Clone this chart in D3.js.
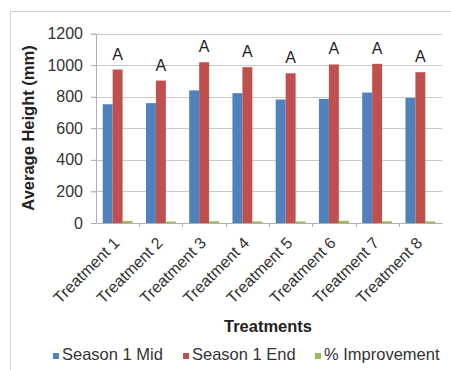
<!DOCTYPE html>
<html><head><meta charset="utf-8">
<script src="https://cdn.jsdelivr.net/npm/d3@7/dist/d3.min.js"></script>
<style>body{margin:0;background:#fff;}svg{display:block;font-family:"Liberation Sans",Arial,sans-serif;}</style>
</head><body>
<svg id="c" width="451" height="370"></svg>
<script>
const categories = ["Treatment 1","Treatment 2","Treatment 3","Treatment 4","Treatment 5","Treatment 6","Treatment 7","Treatment 8"];
const seriesNames = ["Season 1 Mid","Season 1 End","% Improvement"];
const midValues = [752, 759, 840, 822, 782, 786, 826, 792];
const endValues = [972, 902, 1018, 987, 948, 1004, 1008, 955];
const improvementValues = [13, 9, 11, 10, 10, 14, 11, 10];
const letters = ["A","A","A","A","A","A","A","A"];
const yTicks = [0,200,400,600,800,1000,1200];
const colors = ["#4F81BD","#C0504D","#9BBB59"];

const svg = d3.select("#c");
svg.append("rect").attr("x",10.5).attr("y",11.5).attr("width",450).attr("height",370)
  .attr("fill","#fff").attr("stroke","#d0d0d0");

const m = {l:96, r:442, t:33.5, b:223};
const x = d3.scaleBand().domain(categories).range([m.l,m.r]).paddingInner(0.31).paddingOuter(0.155);
const y = d3.scaleLinear().domain([0,1200]).range([m.b,m.t]);
const xs = d3.scaleBand().domain(seriesNames).range([0,x.bandwidth()]);

// gridlines
svg.append("g").selectAll("line").data(yTicks.filter(d=>d>0)).join("line")
  .attr("x1",m.l-5).attr("x2",m.r).attr("y1",d=>Math.round(y(d))+0.5).attr("y2",d=>Math.round(y(d))+0.5)
  .attr("stroke","#c8c8c8").attr("stroke-width",1);

const data = categories.map((c,i)=>({c, vals:[midValues[i],endValues[i],improvementValues[i]]}));
const g = svg.append("g").selectAll("g").data(data).join("g").attr("transform",d=>`translate(${x(d.c)},0)`);
g.selectAll("rect").data(d=>d.vals.map((v,j)=>({v,s:seriesNames[j],j}))).join("rect")
  .attr("x",d=>xs(d.s)).attr("width",xs.bandwidth()).attr("y",d=>y(d.v)).attr("height",d=>y(0)-y(d.v))
  .attr("fill",d=>colors[d.j]);

// letters
svg.append("g").selectAll("text").data(data).join("text")
  .attr("x",(d)=>x(d.c)+xs("Season 1 End")+xs.bandwidth()/2)
  .attr("y",(d,i)=>y(endValues[i])-10)
  .attr("text-anchor","middle").attr("font-size",16).attr("fill","#222")
  .text((d,i)=>letters[i]);

// y axis
const ya = svg.append("g").attr("transform",`translate(${m.l},0)`)
  .call(d3.axisLeft(y).tickValues(yTicks).tickFormat(d3.format("d")).tickSize(5).tickSizeOuter(0));
ya.select(".domain").attr("stroke","#b0b0b0");
ya.selectAll(".tick line").attr("stroke","#b0b0b0");
ya.selectAll(".tick text").attr("font-size",16).attr("fill","#333").attr("x",-13).attr("font-family","Liberation Sans, Arial, sans-serif");

// x axis
const xa = svg.append("g").attr("transform",`translate(0,${m.b})`)
  .call(d3.axisBottom(x).tickSize(0).tickSizeOuter(0));
xa.select(".domain").attr("stroke","#b0b0b0");
svg.append("g").selectAll("line").data(categories.slice(1)).join("line")
  .attr("x1",d=>Math.round(x(d)-x.step()*x.paddingInner()/2)+0.5)
  .attr("x2",d=>Math.round(x(d)-x.step()*x.paddingInner()/2)+0.5)
  .attr("y1",m.b).attr("y2",m.b+4).attr("stroke","#b0b0b0");
xa.selectAll(".tick text").attr("font-size",16).attr("fill","#333")
  .attr("font-family","Liberation Sans, Arial, sans-serif")
  .attr("text-anchor","end").attr("dy",0).attr("y",0)
  .attr("transform","translate(3,21) rotate(-45)");

// axis titles
svg.append("text").attr("transform",`translate(34,128) rotate(-90)`).attr("text-anchor","middle")
  .attr("font-size",16.5).attr("font-weight","bold").attr("fill","#222").text("Average Height (mm)");
svg.append("text").attr("x",268).attr("y",332).attr("text-anchor","middle")
  .attr("font-size",16.5).attr("font-weight","bold").attr("fill","#222").text("Treatments");

// legend
const legX = [53, 183, 315];
const lg = svg.append("g").selectAll("g").data(seriesNames).join("g")
  .attr("transform",(d,i)=>`translate(${legX[i]},360)`);
lg.append("rect").attr("x",0).attr("y",-7).attr("width",6).attr("height",6).attr("fill",(d,i)=>colors[i]);
lg.append("text").attr("x",9).attr("y",0).attr("font-size",16.5).attr("fill","#333").text(d=>d);
</script>
</body></html>
